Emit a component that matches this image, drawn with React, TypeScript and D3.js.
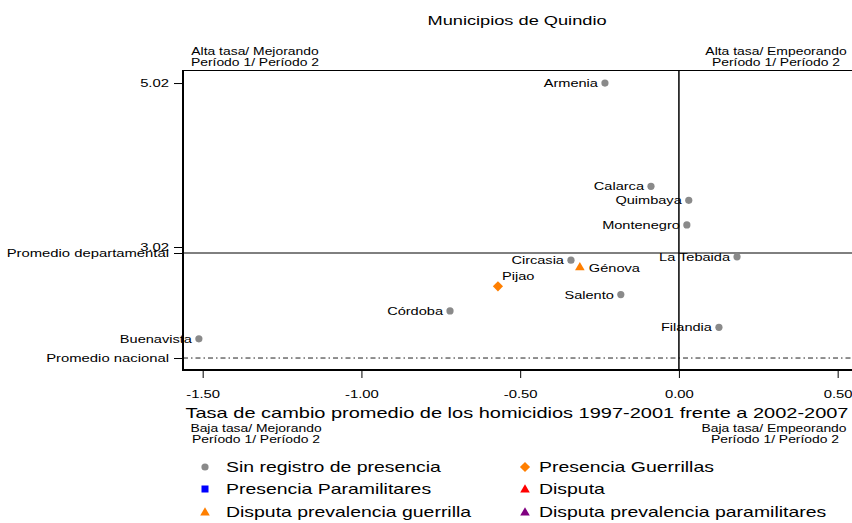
import React, { useEffect, useRef } from 'react';
import * as d3 from 'd3';

// municipios y valores
const municipios = ['Armenia', 'Calarca', 'Quimbaya', 'Montenegro', 'La Tebaida', 'Circasia', 'Génova', 'Pijao', 'Salento', 'Córdoba', 'Filandia', 'Buenavista'];
const tasaCambio = [-0.233, -0.088, 0.031, 0.025, 0.183, -0.340, -0.312, -0.570, -0.183, -0.721, 0.126, -1.512];
const tasaHomicidios = [5.02, 3.76, 3.59, 3.29, 2.90, 2.86, 2.78, 2.54, 2.44, 2.24, 2.04, 1.90];
const grupo = ['sin', 'sin', 'sin', 'sin', 'sin', 'sin', 'dpg', 'pg', 'sin', 'sin', 'sin', 'sin'];
const etiquetaPos = [9, 9, 9, 9, 9, 9, 3, 1, 9, 9, 9, 9];

const xTicks = [-1.5, -1.0, -0.5, 0, 0.5];
const yTicks = [5.02, 3.02];
const promedioDepartamental = 2.947;
const promedioNacional = 1.666;

const grupos = ['sin', 'pg', 'pp', 'd', 'dpg', 'dpp'];
const grupoLabels = ['Sin registro de presencia', 'Presencia Guerrillas', 'Presencia Paramilitares', 'Disputa', 'Disputa prevalencia guerrilla', 'Disputa prevalencia paramilitares'];
const grupoColors = ['#8a8a8a', '#ff7f00', '#0000ff', '#ff0000', '#ff7f00', '#800080'];

const FONT = '"Liberation Sans", Arial, Helvetica, sans-serif';
const SX = 1.35; // el texto original esta estirado horizontalmente

function marker(g, tipo, color, cx, cy) {
  if (tipo === 'sin') {
    g.append('circle').attr('cx', cx).attr('cy', cy).attr('r', 3.6).attr('fill', color);
  } else if (tipo === 'pg') {
    g.append('rect').attr('x', -3.6).attr('y', -3.6).attr('width', 7.2).attr('height', 7.2)
      .attr('fill', color).attr('transform', `translate(${cx},${cy}) rotate(45)`);
  } else if (tipo === 'pp') {
    g.append('rect').attr('x', cx - 3.5).attr('y', cy - 3.5).attr('width', 7).attr('height', 7).attr('fill', color);
  } else {
    g.append('path').attr('d', d3.symbol(d3.symbolTriangle, 40)()).attr('fill', color)
      .attr('transform', `translate(${cx},${cy + 0.8})`);
  }
}

function texto(g, x, y, str, size, anchor = 'start', sx = SX) {
  return g.append('text')
    .attr('transform', `translate(${x},${y}) scale(${sx},1)`)
    .attr('text-anchor', anchor)
    .style('font-family', FONT)
    .style('font-size', size + 'px')
    .attr('fill', '#000')
    .text(str);
}

export default function App() {
  const ref = useRef(null);

  useEffect(() => {
    const width = 852;
    const height = 523;
    const svg = d3.select(ref.current);
    svg.selectAll('*').remove();
    svg.attr('width', width).attr('height', height);
    svg.append('rect').attr('width', width).attr('height', height).attr('fill', '#fff');

    const left = 183, right = 852, top = 70, bottom = 370;
    const xScale = d3.scaleLinear().domain([-1.562, 0.542]).range([left, 851]);
    const yScale = d3.scaleLinear().domain([1.52, 5.179]).range([bottom, top]);

    // titulo
    texto(svg, 517, 25, 'Municipios de Quindio', 13.5, 'middle');

    // esquinas
    texto(svg, 255, 55, 'Alta tasa/ Mejorando', 10.3, 'middle');
    texto(svg, 255, 66, 'Período 1/ Período 2', 10.3, 'middle');
    texto(svg, 776, 55, 'Alta tasa/ Empeorando', 10.3, 'middle');
    texto(svg, 776, 66, 'Período 1/ Período 2', 10.3, 'middle');
    texto(svg, 256, 432, 'Baja tasa/ Mejorando', 10.3, 'middle');
    texto(svg, 256, 443, 'Período 1/ Período 2', 10.3, 'middle');
    texto(svg, 774, 432, 'Baja tasa/ Empeorando', 10.3, 'middle');
    texto(svg, 775, 443, 'Período 1/ Período 2', 10.3, 'middle');

    // borde superior
    svg.append('line').attr('x1', left).attr('x2', right).attr('y1', top + 0.5).attr('y2', top + 0.5)
      .attr('stroke', '#000').attr('stroke-width', 1);

    // lineas de referencia
    svg.append('line').attr('x1', left).attr('x2', right)
      .attr('y1', yScale(promedioDepartamental)).attr('y2', yScale(promedioDepartamental))
      .attr('stroke', '#000').attr('stroke-width', 1);
    svg.append('line').attr('x1', left).attr('x2', right)
      .attr('y1', yScale(promedioNacional)).attr('y2', yScale(promedioNacional))
      .attr('stroke', '#222').attr('stroke-width', 1).attr('stroke-dasharray', '5,3,1.5,3');
    svg.append('line').attr('x1', xScale(0)).attr('x2', xScale(0)).attr('y1', top).attr('y2', bottom)
      .attr('stroke', '#000').attr('stroke-width', 1.5);

    // eje x
    const fmt = d => d3.format('.2f')(d).replace('\u2212', '-');
    const xAxis = d3.axisBottom(xScale).tickValues(xTicks).tickSize(7).tickPadding(12).tickFormat(fmt);
    const gx = svg.append('g').attr('transform', `translate(0,${bottom + 1})`).call(xAxis);
    gx.select('.domain').remove();
    gx.selectAll('line').attr('stroke', '#000');
    gx.selectAll('text').attr('transform', `scale(${SX},1)`).style('font-family', FONT).style('font-size', '11px').attr('fill', '#000');

    // eje y
    const yLabels = [...yTicks.map(fmt), 'Promedio departamental', 'Promedio nacional'];
    const yVals = [...yTicks, promedioDepartamental, promedioNacional];
    const yAxis = d3.axisLeft(yScale).tickValues(yVals).tickSize(9)
      .tickFormat((d, i) => yLabels[i]);
    const gy = svg.append('g').attr('transform', `translate(${left},0)`).call(yAxis);
    gy.select('.domain').remove();
    gy.selectAll('line').attr('stroke', '#000');
    gy.selectAll('text').attr('x', 0).attr('transform', `translate(-14,0) scale(${SX},1)`)
      .style('font-family', FONT).style('font-size', '11px').attr('fill', '#000');

    // ejes gruesos
    svg.append('line').attr('x1', left).attr('x2', left).attr('y1', top).attr('y2', bottom + 1)
      .attr('stroke', '#000').attr('stroke-width', 2);
    svg.append('line').attr('x1', left - 1).attr('x2', right).attr('y1', bottom).attr('y2', bottom)
      .attr('stroke', '#000').attr('stroke-width', 2);

    // titulo eje x
    texto(svg, 517, 418, 'Tasa de cambio promedio de los homicidios 1997-2001 frente a 2002-2007', 14.8, 'middle');

    // puntos
    const gp = svg.append('g');
    municipios.forEach((m, i) => {
      const cx = xScale(tasaCambio[i]);
      const cy = yScale(tasaHomicidios[i]);
      const gi = grupos.indexOf(grupo[i]);
      marker(gp, grupo[i], grupoColors[gi], cx, cy);
      const pos = etiquetaPos[i];
      if (pos === 9) texto(gp, cx - 7, cy + 4, m, 10.8, 'end');
      else if (pos === 3) texto(gp, cx + 9, cy + 5, m, 10.8, 'start');
      else texto(gp, cx + 4, cy - 6, m, 10.8, 'start');
    });

    // leyenda
    const gl = svg.append('g');
    const colX = [205, 525];
    const textX = [226, 539];
    const rowY = [467, 489, 512];
    grupos.forEach((g, i) => {
      const c = i % 2;
      const r = Math.floor(i / 2);
      marker(gl, g, grupoColors[i], colX[c], rowY[r]);
      texto(gl, textX[c], rowY[r] + 5, grupoLabels[i], 14.4, 'start');
    });
  }, []);

  return (
    <div style={{ position: 'absolute', left: 0, top: 0 }}>
      <svg ref={ref}></svg>
    </div>
  );
}
